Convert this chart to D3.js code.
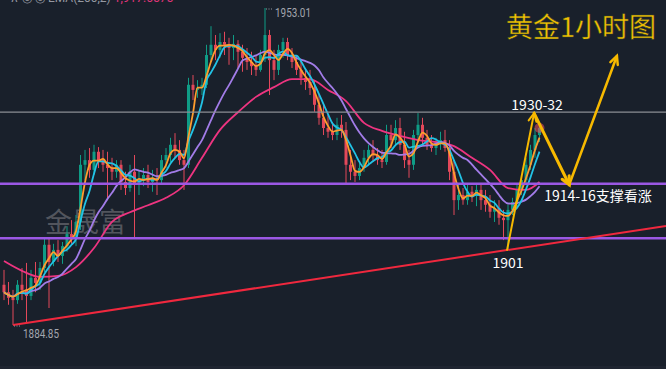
<!DOCTYPE html>
<html>
<head>
<meta charset="utf-8">
<script src="https://cdn.jsdelivr.net/npm/d3@7"></script>
<style>
  html, body { margin: 0; padding: 0; background: #19202b; }
  svg { display: block; }
</style>
</head>
<body>
<svg id="chart" width="666" height="369"></svg>
<script>
// 1時間足のローソク足データ [open, high, low, close]
var candles = [
  [1893.5,1896.7,1890.2,1891.9],[1891.9,1894.1,1889.2,1890.7],[1890.7,1892.4,1884.85,1890.2],[1890.2,1894.5,1889.4,1893.5],
  [1893.5,1897.1,1890.2,1892.4],[1892.4,1898.2,1885.3,1891.1],[1891.1,1896.7,1890.2,1895.0],[1895.0,1898.4,1891.9,1893.9],
  [1893.9,1898.4,1892.4,1897.1],[1897.1,1903.6,1896.2,1902.1],[1902.1,1903.6,1888.5,1898.4],[1898.4,1902.3,1897.5,1901.0],
  [1901.0,1903.1,1898.4,1899.7],[1899.7,1902.7,1898.0,1901.8],[1901.8,1906.1,1900.6,1904.4],[1904.4,1907.4,1902.3,1903.6],
  [1903.6,1908.5,1901.8,1907.0],[1907.0,1921.4,1905.3,1919.3],[1919.3,1922.5,1916.0,1920.3],[1920.3,1922.9,1916.5,1918.2],
  [1918.2,1923.6,1917.1,1922.1],[1922.1,1923.1,1918.6,1920.3],[1920.3,1922.5,1917.8,1919.3],[1919.3,1922.1,1911.7,1918.6],
  [1918.6,1920.8,1916.0,1917.8],[1917.8,1920.3,1916.5,1919.3],[1919.3,1920.3,1913.9,1915.6],[1915.6,1917.8,1912.8,1914.3],
  [1914.3,1919.3,1913.5,1917.8],[1917.8,1921.4,1903.6,1915.0],[1915.0,1918.2,1912.8,1916.0],[1916.0,1918.6,1914.7,1917.1],
  [1917.1,1919.3,1914.3,1915.6],[1915.6,1918.2,1913.5,1916.5],[1916.5,1918.6,1912.8,1916.0],[1916.0,1921.4,1915.0,1920.3],
  [1920.3,1922.9,1918.6,1921.4],[1921.4,1925.1,1919.9,1923.6],[1923.6,1926.1,1920.8,1922.5],[1922.5,1924.6,1919.3,1920.3],
  [1920.3,1922.5,1913.9,1919.3],[1919.3,1938.0,1918.6,1936.5],[1936.5,1938.6,1933.2,1935.4],[1935.4,1937.5,1933.7,1935.8],
  [1935.8,1938.0,1934.3,1936.5],[1936.5,1945.1,1935.8,1942.9],[1942.9,1949.1,1941.4,1945.1],[1945.1,1947.2,1941.8,1944.0],
  [1944.0,1947.6,1942.3,1945.7],[1945.7,1947.9,1942.9,1945.1],[1945.1,1946.6,1940.8,1944.4],[1944.4,1947.2,1941.8,1945.3],
  [1945.3,1946.1,1940.1,1943.6],[1943.6,1945.1,1939.3,1942.3],[1942.3,1944.4,1939.7,1941.4],[1941.4,1943.6,1938.6,1940.5],
  [1940.5,1942.9,1938.4,1939.7],[1939.7,1944.0,1939.3,1942.9],[1942.9,1953.01,1941.4,1947.2],[1947.2,1948.3,1934.3,1941.8],
  [1941.8,1944.0,1937.5,1939.7],[1939.7,1945.1,1938.6,1944.0],[1944.0,1946.6,1942.3,1945.7],[1945.7,1946.6,1941.8,1942.9],
  [1942.9,1944.4,1940.1,1941.4],[1941.4,1942.9,1938.6,1939.7],[1939.7,1941.8,1936.5,1938.0],[1938.0,1940.1,1935.4,1937.1],
  [1937.1,1939.7,1934.3,1935.8],[1935.8,1937.5,1930.7,1932.2],[1932.2,1934.3,1927.9,1929.4],[1929.4,1932.2,1925.7,1927.2],
  [1927.2,1930.0,1925.1,1926.4],[1926.4,1928.5,1924.6,1925.7],[1925.7,1929.4,1924.6,1927.9],[1927.9,1930.0,1925.1,1926.8],
  [1926.8,1928.5,1915.0,1919.3],[1919.3,1922.5,1916.0,1917.8],[1917.8,1920.3,1915.6,1916.9],[1916.9,1919.9,1916.0,1918.6],
  [1918.6,1922.5,1917.8,1920.8],[1920.8,1923.6,1919.3,1922.5],[1922.5,1924.6,1919.9,1921.4],[1921.4,1922.9,1919.3,1920.3],
  [1920.3,1922.5,1918.6,1919.9],[1919.9,1927.9,1919.3,1925.7],[1925.7,1927.9,1922.9,1924.6],[1924.6,1928.9,1923.6,1927.2],
  [1927.2,1929.4,1922.5,1923.6],[1923.6,1926.4,1918.6,1920.3],[1920.3,1922.5,1916.5,1919.3],[1919.3,1926.8,1918.2,1925.7],
  [1925.7,1930.4,1924.2,1927.9],[1927.9,1929.4,1923.6,1925.1],[1925.1,1926.8,1922.5,1923.6],[1923.6,1925.7,1922.1,1922.9],
  [1922.9,1925.1,1921.4,1924.2],[1924.2,1926.4,1922.5,1924.6],[1924.6,1926.8,1922.1,1922.9],[1922.9,1924.6,1916.0,1917.8],
  [1917.8,1920.3,1908.5,1911.7],[1911.7,1915.0,1909.6,1912.8],[1912.8,1914.3,1910.7,1911.7],[1911.7,1915.0,1910.7,1913.5],
  [1913.5,1914.7,1911.3,1912.6],[1912.6,1915.0,1910.4,1913.9],[1913.9,1915.4,1909.6,1911.7],[1911.7,1913.9,1909.2,1910.7],
  [1910.7,1912.8,1907.9,1909.2],[1909.2,1911.7,1907.0,1910.0],[1910.0,1911.7,1906.4,1907.9],[1907.9,1909.6,1903.1,1907.4],
  [1907.4,1910.7,1901.0,1909.6],[1909.6,1912.2,1908.5,1911.3],[1911.3,1915.0,1910.0,1913.9],[1913.9,1917.1,1912.8,1916.0],
  [1916.0,1920.8,1915.0,1919.3],[1919.3,1923.6,1918.2,1922.5],[1922.5,1927.2,1920.8,1925.7],[1925.7,1928.5,1924.2,1927.2]
];

// 長期移動平均線（ピンク）: 4本ごとの値（チャートから読み取り）
var maLong = [1898.6,1896.5,1895.2,1895.4,1897.3,1901.4,1907.0,1909.1,1910.6,1912.2,1914.9,1920.8,1926.8,1930.6,1933.9,
              1936.0,1937.7,1937.7,1935.4,1933.0,1928.3,1926.6,1925.5,1924.6,1924.2,1923.3,1920.8,1918.2,1914.3,1913.9,1915.6];
var maLongStep = 4;

// 短期移動平均線の期間
var maPeriods = [3, 5, 13];
var maColors = ["#ff9d2e", "#22c3e6", "#a27ce8"];

// 水平線・トレンドライン
var resistLevel = 1930.6;
var supportLevels = [1915.2, 1903.5];
var trendLows = [[2, 1884.85], [112, 1901.0]];

// 予想ルート（矢印）[足の位置, 価格]
var pathPoints = [[111.8, 1901.0], [117.8, 1930.4], [125.6, 1915.0], [136.2, 1942.7]];

var highIdx = 58, lowIdx = 2;

var W = 666, H = 369;
var svg = d3.select("#chart");

// スケール
var x = d3.scaleLinear().domain([0, candles.length - 1]).range([4, 539.5]);
var y = d3.scaleLinear().domain([1884.85, 1953.01]).range([325, 8]);

// 背景
svg.append("rect").attr("width", W).attr("height", H).attr("fill", "#19202b");
svg.append("rect").attr("y", 366).attr("width", W).attr("height", 3).attr("fill", "#1f2531");

// 上部の凡例（見切れている）
var legend = svg.append("text").attr("x", 10).attr("y", 1.5)
  .style("font-family", "Roboto, 'Noto Sans', sans-serif").style("font-size", "12px");
legend.append("tspan").attr("fill", "#9598a1").text("\u2227  \u25CE  \u25CE  EMA(200,2)  ");
legend.append("tspan").attr("fill", "#e0357a").text("1,917.6575");

// ウォーターマーク
svg.append("text").attr("x", 45).attr("y", 232)
  .attr("fill", "#52555d")
  .style("font-family", "'Noto Sans CJK SC', sans-serif").style("font-size", "27px")
  .text("金晟富");

// ローソク足
var g = svg.append("g").attr("class", "candles");
var up = "#0f9c86", down = "#e3485a";
g.selectAll("line.wick").data(candles).enter().append("line")
  .attr("class", "wick")
  .attr("x1", function(d, i) { return x(i); })
  .attr("x2", function(d, i) { return x(i); })
  .attr("y1", function(d) { return y(d[1]); })
  .attr("y2", function(d) { return y(d[2]); })
  .attr("stroke", function(d) { return d[3] >= d[0] ? up : down; })
  .attr("stroke-width", 1);
g.selectAll("rect.body").data(candles).enter().append("rect")
  .attr("class", "body")
  .attr("x", function(d, i) { return x(i) - 1.5; })
  .attr("width", 3)
  .attr("y", function(d) { return y(Math.max(d[0], d[3])); })
  .attr("height", function(d) { return Math.max(1, Math.abs(y(d[0]) - y(d[3]))); })
  .attr("fill", function(d) { return d[3] >= d[0] ? up : down; });

// 単純移動平均
function sma(period) {
  return candles.map(function(d, i) {
    var s = candles.slice(Math.max(0, i - period + 1), i + 1);
    return d3.mean(s, function(c) { return c[3]; });
  });
}

var line = d3.line()
  .x(function(d) { return x(d[0]); })
  .y(function(d) { return y(d[1]); })
  .curve(d3.curveMonotoneX);

var longPts = maLong.map(function(v, k) { return [Math.min(k * maLongStep, candles.length - 1), v]; });
svg.append("path").datum(longPts).attr("d", line)
  .attr("fill", "none").attr("stroke", "#ee3480").attr("stroke-width", 1.8);

maPeriods.slice().reverse().forEach(function(p, j) {
  var idx = maPeriods.length - 1 - j;
  var vals = sma(p).map(function(v, i) { return [i, v]; });
  svg.append("path").datum(vals).attr("d", line)
    .attr("fill", "none").attr("stroke", maColors[idx]).attr("stroke-width", 1.8);
});

// 最終値のマーカー
var last = candles[candles.length - 1];
svg.append("circle").attr("cx", x(candles.length - 1)).attr("cy", y(last[3]))
  .attr("r", 5).attr("fill", "rgba(240,80,95,0.55)");

// 水平線
svg.append("line").attr("x1", 0).attr("x2", W)
  .attr("y1", y(resistLevel)).attr("y2", y(resistLevel))
  .attr("stroke", "#8b8e95").attr("stroke-width", 1.2);
svg.selectAll("line.support").data(supportLevels).enter().append("line")
  .attr("class", "support")
  .attr("x1", 0).attr("x2", W)
  .attr("y1", function(d) { return y(d); }).attr("y2", function(d) { return y(d); })
  .attr("stroke", "#9b58e4").attr("stroke-width", 2.5);

// トレンドライン（右端まで延長）
var slope = (trendLows[1][1] - trendLows[0][1]) / (trendLows[1][0] - trendLows[0][0]);
var iEnd = x.invert(W);
svg.append("line")
  .attr("x1", x(trendLows[0][0])).attr("y1", y(trendLows[0][1]))
  .attr("x2", W).attr("y2", y(trendLows[0][1] + slope * (iEnd - trendLows[0][0])))
  .attr("stroke", "#f0283e").attr("stroke-width", 2);

// 高値・安値ラベル
var priceFont = "Roboto, 'Liberation Sans', sans-serif";
function extremeLabel(idx, price, dy) {
  var px = x(idx), py = y(price);
  svg.append("line").attr("x1", px + 1).attr("x2", px + 8).attr("y1", py + 1).attr("y2", py + 1)
    .attr("stroke", "#9598a1").attr("stroke-width", 1).attr("stroke-dasharray", "1,1.5");
  svg.append("text").attr("x", px + 10).attr("y", py + dy)
    .attr("fill", "#a3a6ae").attr("textLength", 36).attr("lengthAdjust", "spacingAndGlyphs")
    .style("font-family", priceFont).style("font-size", "12px")
    .text(price.toFixed(2));
}
extremeLabel(highIdx, candles[highIdx][1], 8.5);
extremeLabel(lowIdx, candles[lowIdx][2], 12.5);

// 矢印
var gold = "#f7b900";
var seg = [2, 3, 2.5];
function arrowHead(p0, p1, w) {
  var x0 = x(p0[0]), y0 = y(p0[1]), x1 = x(p1[0]), y1 = y(p1[1]);
  var a = Math.atan2(y1 - y0, x1 - x0), L = 9, s = 0.45;
  var pts = [[x1 - L * Math.cos(a - s), y1 - L * Math.sin(a - s)], [x1, y1],
             [x1 - L * Math.cos(a + s), y1 - L * Math.sin(a + s)]];
  svg.append("path").attr("d", d3.line()(pts))
    .attr("fill", "none").attr("stroke", gold).attr("stroke-width", w)
    .attr("stroke-linejoin", "miter").attr("stroke-linecap", "round");
}
for (var k = 0; k < pathPoints.length - 1; k++) {
  var p0 = pathPoints[k], p1 = pathPoints[k + 1];
  svg.append("line")
    .attr("x1", x(p0[0])).attr("y1", y(p0[1]))
    .attr("x2", x(p1[0])).attr("y2", y(p1[1]))
    .attr("stroke", gold).attr("stroke-width", seg[k]).attr("stroke-linecap", "round");
  arrowHead(p0, p1, seg[k]);
}

// 注釈テキスト
var cjk = "'Noto Sans CJK SC', 'Noto Sans', sans-serif";
svg.append("text").attr("x", x(pathPoints[1][0]) + 3).attr("y", y(pathPoints[1][1]) - 3)
  .attr("text-anchor", "middle").attr("fill", "#ffffff")
  .style("font-family", cjk).style("font-size", "14px").text("1930-32");
svg.append("text").attr("x", x(pathPoints[2][0]) - 25).attr("y", y(pathPoints[2][1]) + 16)
  .attr("fill", "#ffffff")
  .style("font-family", cjk).style("font-size", "14px").text("1914-16支撑看涨");
svg.append("text").attr("x", x(pathPoints[0][0]) + 1).attr("y", y(pathPoints[0][1]) + 18)
  .attr("text-anchor", "middle").attr("fill", "#ffffff")
  .style("font-family", cjk).style("font-size", "14px").text("1901");

svg.append("text").attr("x", 506).attr("y", 37)
  .attr("fill", "#f5c200").attr("stroke", "#3c4a2a").attr("stroke-width", 0.4)
  .style("font-family", cjk).style("font-size", "27px").text("黄金1小时图");
</script>
</body>
</html>
